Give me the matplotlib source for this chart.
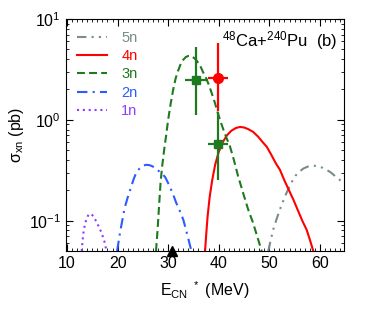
import matplotlib
matplotlib.use("Agg")
import matplotlib.pyplot as plt
from matplotlib.ticker import MultipleLocator, LogLocator, NullFormatter

plt.rcParams['font.family'] = ['Liberation Sans', 'DejaVu Sans']
plt.rcParams['mathtext.default'] = 'regular'

# ── Data ─────────────────────────────────────────────────────────────────────
e_1n = [12.9, 13.1, 13.3, 13.6, 13.9, 14.2, 14.5, 14.8, 15.2, 15.6, 16.0, 16.4, 16.9, 17.4, 17.8]
s_1n = [0.05, 0.065, 0.08, 0.094, 0.106, 0.113, 0.117, 0.116, 0.111, 0.102, 0.093, 0.085,
        0.074, 0.062, 0.05]

e_2n = [19.9, 20.2, 20.5, 21.0, 21.4, 22.0, 22.5, 23.2, 23.8, 24.5, 25.0, 25.6, 26.2, 26.8,
        27.4, 28.0, 28.7, 29.4, 30.2, 31.0, 31.6, 32.3, 33.0, 33.8, 34.6]
s_2n = [0.05, 0.062, 0.077, 0.105, 0.134, 0.17, 0.203, 0.26, 0.308, 0.335, 0.35, 0.358, 0.356,
        0.348, 0.333, 0.315, 0.295, 0.271, 0.225, 0.181, 0.15, 0.125, 0.102, 0.072, 0.05]

e_3n = [27.6, 27.9, 28.2, 28.5, 28.8, 29.2, 29.6, 30.0, 30.5, 31.0, 31.5, 32.0, 32.5, 33.0,
        33.5, 34.0, 34.5, 35.0, 35.5, 36.0, 36.5, 37.0, 37.5, 38.0, 38.6, 39.2, 39.8, 40.4,
        41.0, 41.6, 42.2, 43.0, 43.8, 44.8, 45.8, 46.8, 47.6, 48.5]
s_3n = [0.05, 0.08, 0.14, 0.24, 0.34, 0.5, 0.7, 1.0, 1.45, 2.0, 2.6, 3.1, 3.6, 3.95,
        4.2, 4.3, 4.3, 4.15, 3.95, 3.65, 3.3, 2.9, 2.6, 2.25, 1.85, 1.5, 1.18, 0.95,
        0.78, 0.65, 0.55, 0.4, 0.28, 0.19, 0.13, 0.095, 0.07, 0.05]

e_4n = [37.3, 37.5, 37.8, 38.2, 38.7, 39.3, 40.0, 40.8, 41.6, 42.5, 43.4, 44.2, 45.0, 45.8,
        46.8, 47.8, 48.7, 49.5, 50.4, 51.3, 52.1, 53.0, 53.9, 54.8, 55.7, 56.6, 57.4, 58.1, 58.7]
s_4n = [0.05, 0.07, 0.11, 0.17, 0.25, 0.36, 0.48, 0.6, 0.7, 0.78, 0.83, 0.85, 0.84, 0.81,
        0.76, 0.68, 0.6, 0.54, 0.45, 0.37, 0.32, 0.25, 0.2, 0.16, 0.125, 0.098, 0.081, 0.063, 0.05]

e_5n = [49.8, 50.3, 50.8, 51.4, 52.0, 52.6, 53.2, 53.7, 54.4, 55.2, 56.0, 56.8, 57.7, 58.7,
        59.6, 60.5, 61.3, 62.2, 63.2, 64.3, 64.8]
s_5n = [0.05, 0.065, 0.082, 0.102, 0.125, 0.15, 0.178, 0.203, 0.24, 0.28, 0.308, 0.33, 0.345,
        0.351, 0.348, 0.335, 0.32, 0.3, 0.272, 0.245, 0.235]

# experimental points: energy, sigma, x-error, lower / upper y bound
exp3n_e = [35.6, 39.9]
exp3n_s = [2.49, 0.578]
exp3n_xerr = [2.3, 2.0]
exp3n_lo = [1.12, 0.255]
exp3n_hi = [5.32, 1.2]

exp4n_e = [39.9]
exp4n_s = [2.62]
exp4n_xerr = [2.0]
exp4n_lo = [1.21]
exp4n_hi = [5.8]

bass_e = [30.8]   # black triangle on the axis

C5, C4, C3, C2, C1 = '#7a8b8b', '#ff0000', '#1e7a1e', '#2b5cff', '#8f3cff'
LW = 1.5

fig = plt.figure(figsize=(3.74, 3.2), dpi=100)
ax = fig.add_axes([0.1757, 0.2156, 0.7444, 0.725])

ax.plot(e_5n, s_5n, color=C5, lw=LW, ls=(0, (4.5, 2.5, 1, 2.5, 1, 2.5)), label='5n')
ax.plot(e_4n, s_4n, color=C4, lw=LW, ls='-', label='4n')
ax.plot(e_3n, s_3n, color=C3, lw=LW, ls=(0, (3.8, 2)), label='3n')
ax.plot(e_2n, s_2n, color=C2, lw=LW, ls=(0, (5, 2.5, 1, 2.5)), label='2n')
ax.plot(e_1n, s_1n, color=C1, lw=LW, ls=(0, (1, 1.8)), label='1n')

ax.errorbar(exp3n_e, exp3n_s, xerr=exp3n_xerr,
            yerr=[[s - lo for s, lo in zip(exp3n_s, exp3n_lo)],
                  [hi - s for s, hi in zip(exp3n_s, exp3n_hi)]],
            fmt='s', color=C3, ms=6, elinewidth=1.6, capsize=0, zorder=5)
ax.errorbar(exp4n_e, exp4n_s, xerr=exp4n_xerr,
            yerr=[[s - lo for s, lo in zip(exp4n_s, exp4n_lo)],
                  [hi - s for s, hi in zip(exp4n_s, exp4n_hi)]],
            fmt='o', color=C4, ms=7, elinewidth=1.6, capsize=0, zorder=6)
ax.plot(bass_e, [0.05] * len(bass_e), '^', color='black', ms=7, clip_on=False, zorder=7)

ax.set_yscale('log')
ax.set_xlim(9.74, 64.8)
ax.set_ylim(0.05, 10)
ax.xaxis.set_major_locator(MultipleLocator(10))
ax.xaxis.set_minor_locator(MultipleLocator(1))
ax.yaxis.set_minor_locator(LogLocator(base=10, subs=range(2, 10)))
ax.yaxis.set_minor_formatter(NullFormatter())
ax.tick_params(which='both', direction='in', top=True, right=True, labelsize=11.5)
ax.tick_params(which='major', length=5, width=0.8)
ax.tick_params(which='minor', length=2.5, width=0.6)

ax.set_xlabel(r'$E_{CN}$$^{\ *}$ (MeV)', fontsize=11.5, labelpad=6)
ax.set_ylabel(r'$\sigma_{xn}$ (pb)', fontsize=11.5, labelpad=2)

ax.text(0.975, 0.884, r'$^{48}$Ca+$^{240}$Pu  (b)', transform=ax.transAxes,
        ha='right', va='baseline', fontsize=12)

ax.legend(loc='upper left', frameon=False, fontsize=10.5, handlelength=2.0,
          handletextpad=1.0, labelspacing=0.3, borderaxespad=0.4,
          labelcolor='linecolor')

fig.savefig('out.png', dpi=100)
